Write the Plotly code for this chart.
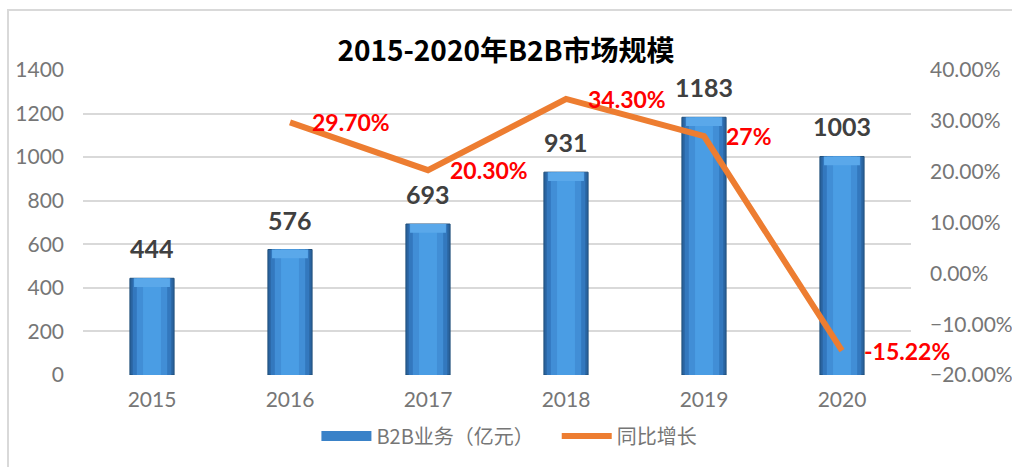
import plotly.graph_objects as go
from plotly.subplots import make_subplots

years = ["2015", "2016", "2017", "2018", "2019", "2020"]
b2b = [444, 576, 693, 931, 1183, 1003]
growth_years = ["2016", "2017", "2018", "2019", "2020"]
growth = [0.297, 0.203, 0.343, 0.27, -0.1522]
growth_labels = ["29.70%", "20.30%", "34.30%", "27%", "-15.22%"]
left_ticks = [0, 200, 400, 600, 800, 1000, 1200, 1400]
right_ticks = [-0.2, -0.1, 0.0, 0.1, 0.2, 0.3, 0.4]

FONT = "Lato, Noto Sans CJK SC, sans-serif"
CJK = "Noto Sans CJK SC, Lato, sans-serif"
TICK = "#767676"

fig = make_subplots(specs=[[{"secondary_y": True}]])

# bevelled bar look: stacked overlay layers
layers = [
    (0.32, "#2A64A0"),
    (0.28, "#3378BE"),
    (0.22, "#418ED6"),
    (0.13, "#4A9DE4"),
]
for i, (w, col) in enumerate(layers):
    fig.add_trace(go.Bar(
        x=years, y=b2b, width=w, name="B2B业务（亿元）",
        marker=dict(color=col, line=dict(width=1 if i == 0 else 0, color="#1F4E79")),
        showlegend=False,
    ), secondary_y=False)
# lighter bevel cap at the top of each bar
cap = 40
fig.add_trace(go.Bar(
    x=years, y=[cap] * len(b2b), base=[v - cap for v in b2b], width=0.26,
    marker=dict(color="#5AA8EA", line=dict(width=0)), showlegend=False, hoverinfo="skip",
), secondary_y=False)

# legend proxy for the bar series (wide flat swatch like the reference)
fig.add_trace(go.Scatter(
    x=[None], y=[None], mode="lines", name="B2B业务（亿元）&nbsp;&nbsp;&nbsp;&nbsp;",
    line=dict(color="#3A82C8", width=10),
), secondary_y=False)

fig.add_trace(go.Scatter(
    x=growth_years, y=growth, name="同比增长", mode="lines",
    line=dict(color="#ED7D31", width=6),
), secondary_y=True)

# category index of each label, taken from the data lists
for x, v in zip(years, b2b):
    fig.add_annotation(x=years.index(x), y=v, xref="x", yref="y", text=str(v), showarrow=False,
                       yshift=30, font=dict(family=FONT, size=25, color="#404040", weight="bold"))
for x, v, t in zip(growth_years, growth, growth_labels):
    fig.add_annotation(x=years.index(x), y=v, xref="x", yref="y2", text=t, showarrow=False,
                       xanchor="left", xshift=20,
                       font=dict(family=FONT, size=23, color="#FF0000", weight="bold"))

fig.add_shape(type="rect", xref="paper", yref="paper",
              x0=-0.0906, x1=1.2, y0=-0.31, y1=1.197,
              line=dict(color="#D9D9D9", width=2), layer="below")

fig.update_layout(
    width=1012, height=467,
    margin=dict(l=83, r=101, t=70, b=92, autoexpand=False),
    paper_bgcolor="white", plot_bgcolor="white",
    barmode="overlay",
    title=dict(text="<b>2015-2020年B2B市场规模</b>", x=0.5, xanchor="center",
               y=1 - 51 / 467, yanchor="middle",
               font=dict(family=CJK, size=28, color="#000000")),
    legend=dict(orientation="h", x=0.515, xanchor="center", y=-0.2, yanchor="middle",
                font=dict(family=CJK, size=20, color=TICK), itemwidth=50),
    font=dict(family=FONT),
)
fig.update_xaxes(type="category", domain=[0, 1], range=[-0.5, 5.5], autorange=False,
                 showgrid=False, showline=False, ticks="", ticklabelstandoff=10,
                 tickfont=dict(family=FONT, size=21, color=TICK))
fig.update_yaxes(range=[0, 1400], tickvals=left_ticks, showgrid=True,
                 gridcolor="#D9D9D9", gridwidth=1.5, zeroline=False, showline=False,
                 ticklabelstandoff=18,
                 tickfont=dict(family=FONT, size=21, color=TICK), secondary_y=False)
fig.update_yaxes(range=[-0.2, 0.4], tickvals=right_ticks, tickformat=".2%",
                 showgrid=False, zeroline=False, showline=False,
                 ticklabelstandoff=18,
                 tickfont=dict(family=FONT, size=21, color=TICK), secondary_y=True)

fig.write_html("out.html")
